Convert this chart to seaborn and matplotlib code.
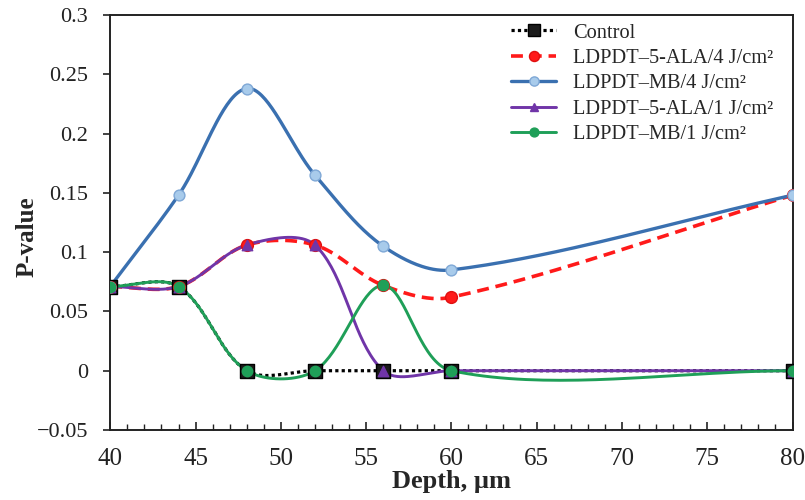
import numpy as np
import pandas as pd
import matplotlib
matplotlib.use('Agg')
import matplotlib.pyplot as plt
import seaborn as sns
from matplotlib.lines import Line2D
from matplotlib.ticker import MultipleLocator

# values
depth = [40, 44, 48, 52, 56, 60, 80]
control = [0.071, 0.071, 0.0, 0.0, 0.0, 0.0, 0.0]
ala_4 = [0.071, 0.071, 0.106, 0.106, 0.072, 0.062, 0.148]
mb_4 = [0.071, 0.148, 0.238, 0.165, 0.105, 0.085, 0.148]
ala_1 = [0.071, 0.071, 0.106, 0.106, 0.0, 0.0, 0.0]
mb_1 = [0.071, 0.071, 0.0, 0.0, 0.072, 0.0, 0.0]

labels = ['Control', 'LDPDT–5-ALA/4 J/cm²', 'LDPDT–MB/4 J/cm²',
          'LDPDT–5-ALA/1 J/cm²', 'LDPDT–MB/1 J/cm²']
x_ticks = [40, 45, 50, 55, 60, 65, 70, 75, 80]
y_ticks = [-0.05, 0, 0.05, 0.1, 0.15, 0.2, 0.25, 0.3]
y_ticklabels = ['−0.05', '0', '0.05', '0.1', '0.15', '0.2', '0.25', '0.3']


def smooth(xs, ys, n=40, sx=17.05, sy=1186.0):
    # Excel-like smoothed line: Bezier segments, tangents scaled by segment length
    # (worked out in screen units so the unequal x spacing does not kink the curve)
    p = np.column_stack([np.asarray(xs, float) * sx, np.asarray(ys, float) * sy])
    npts = len(p)
    t = np.linspace(0, 1, n)[:, None]
    pts = []
    for i in range(npts - 1):
        prev = p[i - 1] if i > 0 else p[i]
        nxt = p[i + 2] if i + 2 < npts else p[i + 1]
        l0 = np.linalg.norm(p[i] - prev)
        l1 = np.linalg.norm(p[i + 1] - p[i])
        l2 = np.linalg.norm(nxt - p[i + 1])
        c1 = p[i] + (p[i + 1] - prev) * l1 / (l0 + l1) / 3
        c2 = p[i + 1] - (nxt - p[i]) * l1 / (l1 + l2) / 3
        b = ((1 - t) ** 3) * p[i] + 3 * ((1 - t) ** 2) * t * c1 \
            + 3 * (1 - t) * t ** 2 * c2 + t ** 3 * p[i + 1]
        pts.append(b if i == 0 else b[1:])
    pts = np.vstack(pts)
    return pd.DataFrame({'x': pts[:, 0] / sx, 'y': pts[:, 1] / sy})


sns.set_theme(style='ticks')
plt.rcParams['font.family'] = ['Liberation Serif', 'DejaVu Serif']

fig, ax = plt.subplots(figsize=(8.05, 5.0), dpi=100)
fig.subplots_adjust(left=0.137, right=0.9845, top=0.97, bottom=0.14)

styles = [
    # color, linestyle, lw, marker, size, face, edge
    ('black', (0, (1, 1)), 2.3, 's', 10, '#1b1b1b', 'black'),
    ('#ff1a1a', (0, (3.3, 1.9)), 2.6, 'o', 8.5, '#ff1a1a', '#e01010'),
    ('#3a70b0', '-', 2.4, 'o', 7.8, '#a8cbeb', '#7fa8d6'),
    ('#7035a8', '-', 2.1, '^', 7.5, '#7035a8', '#7035a8'),
    ('#1f9f58', '-', 2.1, 'o', 7.5, '#1f9f58', '#1f9f58'),
]
series = [control, ala_4, mb_4, ala_1, mb_1]

handles = []
for vals, (col, ls, lw, mk, ms, fc, ec), lab in zip(series, styles, labels):
    curve = smooth(depth, vals)
    sns.lineplot(data=curve, x='x', y='y', sort=False, estimator=None, ax=ax,
                 color=col, linewidth=lw)
    ax.lines[-1].set_linestyle(ls)
    sns.scatterplot(x=depth, y=vals, ax=ax, marker=mk, s=ms ** 2, color=fc,
                    edgecolor=ec, linewidth=1.0, zorder=3)
    handles.append(Line2D([], [], color=col, linestyle=ls, linewidth=lw, marker=mk,
                          markersize=ms * 0.85, markerfacecolor=fc, markeredgecolor=ec))

ax.set_xlim(40, 80)
ax.set_ylim(-0.05, 0.3)
ax.set_xticks(x_ticks)
ax.set_yticks(y_ticks)
ax.set_yticklabels(y_ticklabels)
ax.xaxis.set_minor_locator(MultipleLocator(1))
ax.tick_params(axis='x', which='major', direction='in', length=6, width=1.2,
               labelsize=18, pad=13, colors='#222222')
ax.tick_params(axis='x', which='minor', direction='in', length=4, width=1.0,
               colors='#222222')
ax.tick_params(axis='y', direction='out', length=5, width=1.2, labelsize=16,
               pad=11, colors='#222222')
for sp in ax.spines.values():
    sp.set_color('#222222')
    sp.set_linewidth(1.4)

ax.set_xlabel('Depth, µm', fontsize=19, fontweight='bold', labelpad=0)
ax.set_ylabel('P-value', fontsize=18, fontweight='bold')
ax.yaxis.set_label_coords(-0.105, 0.465)

ax.legend(handles=handles, labels=labels, loc='upper left',
          bbox_to_anchor=(0.582, 0.99), frameon=False, fontsize=14.7,
          handlelength=2.2, handletextpad=0.8, labelspacing=0.3,
          borderaxespad=0, borderpad=0.2)

fig.savefig('out.png', dpi=100)
